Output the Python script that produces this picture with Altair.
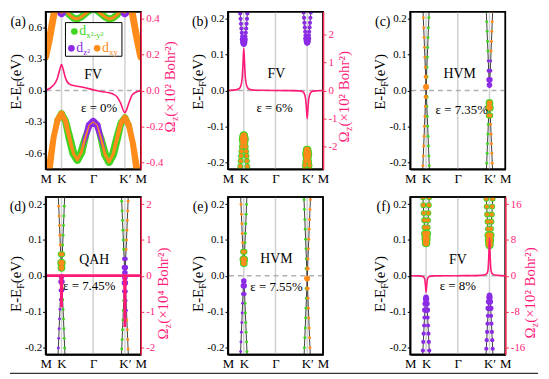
import altair as alt
import pandas as pd

FONT = "Liberation Serif"
C_G, C_P, C_O = "#3fd41f", "#8b2be6", "#ff8c1a"
C_BC, C_BCAX = "#ff1a78", "#ff2d55"
C_VLINE, C_ZERO, C_BAND = "#d0d0d0", "#b0b0b0", "#2b2b2b"
NB = "\u00a0"

W, H = 96, 159
COL_GAP, ROW_GAP = 88, 28

# ---------------- k path ----------------
K_TICKS = [0, 1, 3, 5, 6]
K_NAMES = ["M", "K", "Γ", "K′", "M"]
K_LINES = [1, 3, 5]

# ---------------- panel (a) : fat bands along whole path ----------------
A_K = [0, 0.25, 0.5, 0.75, 1.0, 1.25, 1.5, 1.75, 2.0, 2.25, 2.5, 2.75, 3.0,
       3.25, 3.5, 3.75, 4.0, 4.25, 4.5, 4.75, 5.0, 5.25, 5.5, 5.75, 6.0]
A_VB_E = [-1.0, -0.72, -0.45, -0.28, -0.22, -0.29, -0.45, -0.60, -0.66, -0.59, -0.45, -0.33, -0.30,
          -0.33, -0.46, -0.61, -0.68, -0.61, -0.46, -0.31, -0.26, -0.33, -0.50, -0.75, -1.0]
A_VB_G = [0, 0, 3, 6, 7, 7, 8, 8, 8, 8, 7, 5, 4, 5, 7, 8, 8, 8, 8, 7, 7, 6, 3, 0, 0]
A_VB_P = [0, 0, 0, 0, 0, 0, 0, 0, 0, 2, 5, 7, 8, 7, 5, 2, 0, 0, 0, 0, 0, 0, 0, 0, 0]
A_VB_O = [7, 7, 6, 6, 6, 5, 4, 3, 3, 3, 2, 0, 0, 0, 2, 3, 3, 3, 4, 5, 6, 6, 6, 7, 7]
A_CB1L_K = [0, 0.25, 0.5, 0.75, 1.0]
A_CB1L_E = [0.32, 0.5, 0.71, 0.92, 1.05]
A_CB1R_K = [5.0, 5.25, 5.5, 5.75, 6.0]
A_CB1R_E = [1.05, 0.92, 0.71, 0.5, 0.32]
A_CB1_O = [7, 7, 7, 7, 7]
A_CB2_K = [0.75, 1.0, 1.25, 1.5, 1.75, 2.0, 2.25, 2.5, 2.75, 3.0, 3.25, 3.5, 3.75, 4.0, 4.25, 4.5, 4.75, 5.0, 5.25]
A_CB2_E = [0.80, 0.74, 0.76, 0.72, 0.69, 0.68, 0.70, 0.73, 0.76, 0.78, 0.76, 0.73, 0.70, 0.68, 0.69, 0.72, 0.76, 0.74, 0.80]
A_CB2_G = [6, 4, 6, 7, 7, 7, 7, 7, 7, 7, 7, 7, 7, 7, 7, 7, 6, 4, 6]
A_CB2_P = [3, 9, 3, 0, 0, 0, 0, 0, 0, 0, 0, 0, 0, 0, 0, 0, 3, 9, 3]
A_CB2_O = [3, 2, 3, 3, 3, 3, 3, 3, 3, 3, 3, 3, 3, 3, 3, 3, 3, 2, 3]
A_BC_K = [0, 0.5, 0.75, 0.9, 1.0, 1.1, 1.25, 1.5, 1.75, 2.0, 2.5, 3.0, 3.5, 4.0, 4.25, 4.5, 4.75, 4.9, 5.0, 5.1, 5.25, 5.5, 6]
A_BC_V = [0, 0.03, 0.07, 0.12, 0.145, 0.12, 0.07, 0.035, 0.028, 0.024, 0.015, 0.004, -0.006, -0.013, -0.02,
          -0.035, -0.075, -0.112, -0.125, -0.11, -0.07, -0.02, 0]

# ---------------- valley bands (panels b-f) ----------------
DK_HALF = [0, 0.025, 0.05, 0.075, 0.1, 0.125, 0.15, 0.175, 0.2, 0.225, 0.25, 0.275, 0.3]
W_UNI = "2222222223333333222222222"
W_EDGE = "1111111111233321111111111"
W_X = "1111111111123211111111111"

B_K_CB = [0.130, 0.131, 0.135, 0.142, 0.151, 0.161, 0.173, 0.186, 0.200, 0.215, 0.230, 0.246, 0.262]
B_K_VB = [-0.125, -0.126, -0.131, -0.137, -0.147, -0.157, -0.170, -0.183, -0.197, -0.212, -0.228, -0.244, -0.260]
B_KP_CB = [0.133, 0.134, 0.138, 0.145, 0.154, 0.164, 0.176, 0.189, 0.203, 0.218, 0.233, 0.249, 0.265]
B_KP_VB = [-0.165, -0.166, -0.172, -0.179, -0.189, -0.199, -0.209, -0.221, -0.233, -0.246, -0.260, -0.275, -0.290]
B_BC_K = [0, 0.5, 0.7, 0.8, 0.9, 0.95, 1.0, 1.05, 1.1, 1.2, 1.3, 1.5, 2.0, 3.0, 4.0, 4.5, 4.7, 4.8, 4.9, 4.95,
          5.0, 5.05, 5.1, 5.2, 5.3, 5.5, 6]
B_BC_V = [0, 0.02, 0.06, 0.14, 0.45, 0.95, 1.5, 0.95, 0.45, 0.14, 0.06, 0.02, 0.005, 0, -0.005, -0.015, -0.04,
          -0.09, -0.3, -0.62, -1.0, -0.62, -0.3, -0.09, -0.04, -0.015, 0]

C_K_XUP = [0.010, 0.038, 0.065, 0.093, 0.120, 0.148, 0.175, 0.203, 0.230, 0.258, 0.285, 0.313, 0.340]
C_K_XDN = [0.010, -0.018, -0.045, -0.073, -0.100, -0.128, -0.155, -0.183, -0.210, -0.238, -0.265, -0.293, -0.320]
C_KP_CB = [0.015, 0.030, 0.055, 0.082, 0.110, 0.137, 0.165, 0.192, 0.220, 0.247, 0.275, 0.302, 0.330]
C_KP_VB = [-0.035, -0.048, -0.070, -0.095, -0.122, -0.149, -0.176, -0.203, -0.230, -0.257, -0.284, -0.311, -0.338]

D_K_CB = [0.022, 0.036, 0.060, 0.086, 0.113, 0.140, 0.167, 0.194, 0.221, 0.248, 0.275, 0.302, 0.329]
D_K_VB = [-0.003, -0.017, -0.041, -0.067, -0.094, -0.121, -0.148, -0.175, -0.202, -0.229, -0.256, -0.283, -0.310]
D_KP_CB = [0.008, 0.023, 0.047, 0.073, 0.100, 0.127, 0.154, 0.181, 0.208, 0.235, 0.262, 0.289, 0.316]
D_KP_VB = [-0.006, -0.020, -0.044, -0.070, -0.097, -0.124, -0.151, -0.178, -0.205, -0.232, -0.259, -0.286, -0.313]
D_BC_K = [0, 0.97, 0.99, 1.0, 1.01, 1.03, 4.97, 4.99, 5.0, 5.01, 5.03, 6]
D_BC_V = [0, 0, -0.35, -0.88, -0.35, 0, 0, -0.5, -1.43, -0.5, 0, 0]

E_K_CB = [0.035, 0.046, 0.067, 0.092, 0.118, 0.145, 0.172, 0.199, 0.226, 0.253, 0.280, 0.307, 0.334]
E_K_VB = [-0.015, -0.028, -0.051, -0.077, -0.104, -0.131, -0.158, -0.185, -0.212, -0.239, -0.266, -0.293, -0.320]
E_KP_XUP = [-0.008, 0.020, 0.047, 0.075, 0.102, 0.130, 0.157, 0.185, 0.212, 0.240, 0.267, 0.295, 0.322]
E_KP_XDN = [-0.008, -0.036, -0.063, -0.091, -0.118, -0.146, -0.173, -0.201, -0.228, -0.256, -0.283, -0.311, -0.338]

F_K_CB = [0.090, 0.093, 0.103, 0.117, 0.135, 0.155, 0.175, 0.197, 0.219, 0.242, 0.266, 0.290, 0.314]
F_K_VB = [-0.060, -0.065, -0.078, -0.096, -0.117, -0.139, -0.162, -0.185, -0.209, -0.233, -0.257, -0.281, -0.306]
F_KP_CB = [0.085, 0.088, 0.099, 0.113, 0.131, 0.151, 0.171, 0.193, 0.215, 0.238, 0.262, 0.286, 0.310]
F_KP_VB = [-0.055, -0.061, -0.073, -0.091, -0.112, -0.134, -0.157, -0.180, -0.204, -0.228, -0.252, -0.276, -0.300]
F_BC_K = [0, 0.5, 0.8, 0.9, 0.95, 1.0, 1.05, 1.1, 1.2, 1.5, 3.0, 4.5, 4.8, 4.9, 4.95, 5.0, 5.05, 5.1, 5.2, 5.5, 6]
F_BC_V = [0, -0.04, -0.2, -0.6, -1.7, -3.7, -1.7, -0.6, -0.2, -0.04, 0, 0.08, 0.35, 1.1, 3.8, 8.5, 3.8, 1.1, 0.35, 0.08, 0]

BANDS = {
    "b": [(1, B_K_CB, "p" * 25, W_UNI), (1, B_K_VB, "b" * 25, W_UNI),
          (5, B_KP_CB, "p" * 25, W_UNI), (5, B_KP_VB, "b" * 25, W_UNI)],
    "c": [(1, C_K_XUP, "o" * 13 + "g" * 12, W_X), (1, C_K_XDN, "o" * 13 + "g" * 12, W_X),
          (5, C_KP_CB, "g" * 9 + "p" * 7 + "o" * 9, W_EDGE), (5, C_KP_VB, "g" * 10 + "b" * 5 + "o" * 10, W_EDGE)],
    "d": [(1, D_K_CB, "o" * 10 + "b" * 5 + "g" * 10, W_EDGE), (1, D_K_VB, "p" * 15 + "g" * 10, W_EDGE),
          (5, D_KP_CB, "g" * 10 + "p" * 5 + "o" * 10, W_EDGE), (5, D_KP_VB, "g" * 10 + "p" * 7 + "o" * 8, W_EDGE)],
    "e": [(1, E_K_CB, "o" * 10 + "b" * 5 + "g" * 10, W_EDGE), (1, E_K_VB, "p" * 15 + "g" * 10, W_EDGE),
          (5, E_KP_XUP, "g" * 12 + "o" * 13, W_X), (5, E_KP_XDN, "g" * 12 + "o" * 13, W_X)],
    "f": [(1, F_K_CB, "b" * 25, W_UNI), (1, F_K_VB, "p" * 25, W_UNI),
          (5, F_KP_CB, "b" * 25, W_UNI), (5, F_KP_VB, "p" * 25, W_UNI)],
}

Y_BIG = [-0.6, -0.3, 0.0, 0.3, 0.6]
Y_SMALL = [-0.2, -0.1, 0.0, 0.1, 0.2]

# ---------------- helpers ----------------
SIZE = {1: 9, 2: 18, 3: 32}
ORDER = {"g": 0, "p": 1, "o": 2}
MINUS_FIX = "replace(datum.label, '\u2212', '-')"
LABEL_EXPR = " : ".join(f"datum.value == {v} ? '{n}'" for v, n in zip(K_TICKS[:-1], K_NAMES[:-1])) + f" : '{K_NAMES[-1]}'"
ONE = pd.DataFrame({"o": [0]})
CW = {"E": 0.611, "-": 0.333, "F": 0.556, " ": 0.25, NB: 0.25, "(": 0.333, ")": 0.333, "e": 0.444, "V": 0.722,
      "Ω": 0.768, "z": 0.444, "×": 0.564, "²": 0.3, "⁴": 0.3, "B": 0.667, "o": 0.5, "h": 0.5, "r": 0.333,
      "d": 0.5, "x": 0.5, "y": 0.5}


def tw(s, size):
    return sum(CW.get(c, 0.5) for c in s) * size


def X():
    return alt.X("k:Q", scale=alt.Scale(domain=[0, 6], nice=False, zero=False),
                 axis=alt.Axis(values=K_TICKS, labelExpr=LABEL_EXPR, title=None, ticks=False, grid=False,
                               labelFontSize=13, labelPadding=3, domainWidth=1.5, labelOverlap=False,
                               labelFlush=False, zindex=1))


def Y(lim, ticks):
    return alt.Y("E:Q", scale=alt.Scale(domain=lim, nice=False, zero=False),
                 axis=alt.Axis(values=ticks, format=".1f", labelExpr=MINUS_FIX, title=None, grid=False,
                               tickSize=3, labelPadding=1, labelFontSize=11, domainWidth=1.5, zindex=1))


def YR(lim, ticks, fmt):
    return alt.Y("bc:Q", scale=alt.Scale(domain=lim, nice=False, zero=False),
                 axis=alt.Axis(orient="right", values=ticks, format=fmt, labelExpr=MINUS_FIX, title=None,
                               grid=False, tickSize=3, labelPadding=2, labelFontSize=11, labelColor=C_BC,
                               tickColor=C_BCAX, domainColor=C_BCAX, domainWidth=1.5, zindex=1))


def txt(s, x, y, size=14, color="black", align="center", baseline="middle", angle=0, dx=0, dy=0):
    kw = dict(font=FONT, fontSize=size, color=color, align=align, baseline=baseline)
    if angle:
        kw["angle"] = angle
    if dx:
        kw["dx"] = dx
    if dy:
        kw["dy"] = dy
    return alt.Chart(ONE).mark_text(**kw).encode(x=alt.value(x), y=alt.value(y), text=alt.value(s))


def rot_title(pieces, x, yc, color):
    total = sum(tw(t, s) for t, s, _ in pieces)
    off, out = -total / 2, []
    for t, s, sub in pieces:
        out.append(txt(t, x, yc, s, color, align="left", baseline="alphabetic", angle=270, dx=off, dy=sub))
        off += tw(t, s)
    return out


def htext(pieces, x, y, color):
    off, out = 0, []
    for t, s, sub in pieces:
        out.append(txt(t, x, y, s, color, align="left", baseline="alphabetic", dx=off, dy=sub))
        off += tw(t, s)
    return out


def common(ylim, yticks):
    vl = alt.Chart(pd.DataFrame({"k": K_LINES})).mark_rule(color=C_VLINE, strokeWidth=1.5).encode(x=X())
    zl = alt.Chart(pd.DataFrame({"E": [0.0]})).mark_rule(color=C_ZERO, strokeWidth=1.4, strokeDash=[5, 4]).encode(
        y=Y(ylim, yticks))
    return [vl, zl]


def frame():
    return alt.Chart(ONE).mark_rect(fillOpacity=0, stroke="black", strokeWidth=1.5).encode(
        x=alt.value(0), x2=alt.value(W), y=alt.value(0), y2=alt.value(H))


def valley_layers(bands, ylim, yticks):
    dk = [-d for d in reversed(DK_HALF[1:])] + DK_HALF
    lrows, drows = [], []
    for i, (k0, half, orb, wts) in enumerate(bands):
        es = list(reversed(half[1:])) + list(half)
        for j, (d, e) in enumerate(zip(dk, es)):
            k = round(k0 + d, 4)
            lrows.append(dict(band=i, k=k, E=e))
            o, w = orb[j], int(wts[j])
            if o == "b":
                drows.append(dict(k=k, E=e, orb="g", s=SIZE[w] * 1.9, ord=0))
                drows.append(dict(k=k, E=e, orb="o", s=SIZE[w], ord=2))
            else:
                drows.append(dict(k=k, E=e, orb=o, s=SIZE[w], ord=ORDER[o]))
    lines = alt.Chart(pd.DataFrame(lrows)).mark_line(color=C_BAND, strokeWidth=0.9, clip=True).encode(
        x=X(), y=Y(ylim, yticks), detail="band:N", order="k:Q")
    dots = alt.Chart(pd.DataFrame(drows)).mark_circle(opacity=1, clip=True).encode(
        x=X(), y=Y(ylim, yticks),
        color=alt.Color("orb:N", scale=alt.Scale(domain=["g", "p", "o"], range=[C_G, C_P, C_O]), legend=None),
        size=alt.Size("s:Q", scale=None), order=alt.Order("ord:Q"))
    return [lines, dots]


def trail_rows(band, ks, es, ws):
    return [dict(band=band, k=k, E=e, w=w) for k, e, w in zip(ks, es, ws)]


def a_layers(ylim, yticks):
    g = trail_rows("vb", A_K, A_VB_E, A_VB_G) + trail_rows("cb2", A_CB2_K, A_CB2_E, A_CB2_G)
    p = trail_rows("vb", A_K, A_VB_E, A_VB_P) + trail_rows("cb2", A_CB2_K, A_CB2_E, A_CB2_P)
    o = (trail_rows("vb", A_K, A_VB_E, A_VB_O) + trail_rows("cb2", A_CB2_K, A_CB2_E, A_CB2_O)
         + trail_rows("cb1l", A_CB1L_K, A_CB1L_E, A_CB1_O) + trail_rows("cb1r", A_CB1R_K, A_CB1R_E, A_CB1_O))
    out = []
    for rows, col in ((g, C_G), (p, C_P), (o, C_O)):
        out.append(alt.Chart(pd.DataFrame(rows)).mark_trail(color=col, clip=True).encode(
            x=X(), y=Y(ylim, yticks), size=alt.Size("w:Q", scale=None), detail="band:N"))
    return out


def legend_a():
    box = alt.Chart(ONE).mark_rect(fill="white", stroke="black", strokeWidth=1).encode(
        x=alt.value(20), x2=alt.value(77), y=alt.value(11), y2=alt.value(45))
    dots = [alt.Chart(ONE).mark_circle(opacity=1).encode(x=alt.value(x), y=alt.value(y), size=alt.value(45),
                                                          color=alt.value(c))
            for x, y, c in ((29, 20, C_G), (26, 37, C_P), (52, 37, C_O))]
    t = (htext([("d", 14, 0), ("x²-y²", 9, 3)], 34, 24, C_G)
         + htext([("d", 14, 0), ("z²", 9, 3)], 31, 41, C_P)
         + htext([("d", 14, 0), ("xy", 9, 3)], 57, 41, C_O))
    return [box] + dots + t


LEFT_T = [("E-E", 15, 0), ("F", 10, 3), (NB + "(eV)", 15, 0)]


def right_t(expo):
    return [("Ω", 15, 0), ("z", 10, 3), (f"{NB}(×10{expo}{NB}Bohr²)", 15, 0)]


def panel(key, tag, ylim, yticks, name, name_xy, strain, strain_xy, lt_y, bc=None, extra=()):
    layers = common(ylim, yticks)
    if key == "a":
        layers += a_layers(ylim, yticks)
    else:
        layers += valley_layers(BANDS[key], ylim, yticks)
    layers += [frame()]
    layers += [txt(tag, -20, 10, 14, align="right"),
               txt(name, name_xy[0], name_xy[1], 14),
               txt(strain, strain_xy[0], strain_xy[1], 13)]
    layers += rot_title(LEFT_T, -25, lt_y, "black")
    layers += list(extra)
    if bc is not None:
        ks, vs, lim, ticks, fmt, expo, sw, interp, tx, ty = bc
        layers += rot_title(right_t(expo), W + tx, ty, C_BC)
        left = alt.layer(*layers)
        right = alt.Chart(pd.DataFrame({"k": ks, "bc": vs})).mark_line(
            color=C_BC, strokeWidth=sw, interpolate=interp, clip=True).encode(x=X(), y=YR(lim, ticks, fmt))
        ch = alt.layer(left, right).resolve_scale(y="independent")
    else:
        ch = alt.layer(*layers)
    return ch.properties(width=W, height=H)


bottom_line = alt.Chart(ONE).mark_rule(color="#333333", strokeWidth=1.2).encode(
    x=alt.value(-36), x2=alt.value(497), y=alt.value(178))

pa = panel("a", "(a)", [-0.75, 0.75], Y_BIG, "FV", (48, 64), "ε = 0%", (54, 97), 69,
           bc=(A_BC_K, A_BC_V, [-0.44, 0.44], [-0.4, -0.2, 0.0, 0.2, 0.4], ".1f", "²", 1.6, "monotone", 35, 74),
           extra=legend_a())
pb = panel("b", "(b)", [-0.22, 0.22], Y_SMALL, "FV", (49, 63), "ε = 6%", (47, 97), 69,
           bc=(B_BC_K, B_BC_V, [-2.8, 2.8], [-2, -1, 0, 1, 2], "d", "²", 1.6, "monotone", 26, 84))
pc = panel("c", "(c)", [-0.22, 0.22], Y_SMALL, "HVM", (50, 63), "ε = 7.35%", (52, 99), 69)
pd_ = panel("d", "(d)", [-0.22, 0.22], Y_SMALL, "QAH", (49, 64), "ε = 7.45%", (44, 90), 86,
            bc=(D_BC_K, D_BC_V, [-2.2, 2.2], [-2, -1, 0, 1, 2], "d", "⁴", 2.8, "linear", 28, 96),
            extra=[bottom_line])
pe = panel("e", "(e)", [-0.22, 0.22], Y_SMALL, "HVM", (49, 63), "ε = 7.55%", (49, 91), 86)
pf = panel("f", "(f)", [-0.22, 0.22], Y_SMALL, "FV", (48, 64), "ε = 8%", (48, 90), 86,
           bc=(F_BC_K, F_BC_V, [-17.6, 17.6], [-16, -8, 0, 8, 16], "d", "²", 1.6, "monotone", 30, 95))

chart = alt.concat(pa, pb, pc, pd_, pe, pf, columns=3, spacing={"row": ROW_GAP, "column": COL_GAP},
                   bounds="flush").properties(padding=0).configure_view(stroke="black", strokeWidth=1.5).configure_axis(
    labelFont=FONT, labelColor="black", domainColor="black", tickColor="black")

chart.save("out.html", embed_options={"renderer": "svg", "actions": False})
